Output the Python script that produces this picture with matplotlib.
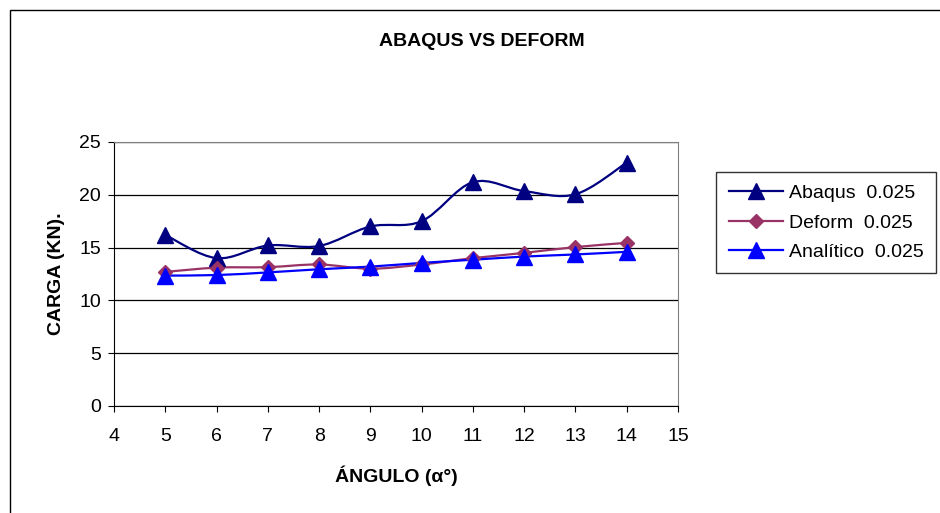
import numpy as np
import matplotlib.pyplot as plt
from matplotlib.path import Path
from matplotlib.patches import PathPatch, Rectangle

plt.rcParams['font.family'] = ['Liberation Sans', 'DejaVu Sans']

angulo = [5, 6, 7, 8, 9, 10, 11, 12, 13, 14]
abaqus = [16.2, 14.0, 15.2, 15.15, 17.0, 17.5, 21.2, 20.35, 20.05, 23.05]
deform = [12.7, 13.1, 13.15, 13.4, 13.0, 13.4, 14.0, 14.5, 15.05, 15.45]
analitico = [12.35, 12.4, 12.65, 12.95, 13.2, 13.55, 13.85, 14.15, 14.35, 14.6]


def smooth_path(x, y, t=1/6):
    # Excel-like smoothed line as cubic Bezier segments
    x = np.asarray(x, float)
    y = np.asarray(y, float)
    verts = [(x[0], y[0])]
    codes = [Path.MOVETO]
    n = len(x)
    for i in range(n - 1):
        x0, y0 = (x[i - 1], y[i - 1]) if i > 0 else (x[i], y[i])
        x3, y3 = (x[i + 2], y[i + 2]) if i + 2 < n else (x[i + 1], y[i + 1])
        c1 = (x[i] + (x[i + 1] - x0) * t, y[i] + (y[i + 1] - y0) * t)
        c2 = (x[i + 1] - (x3 - x[i]) * t, y[i + 1] - (y3 - y[i]) * t)
        verts += [c1, c2, (x[i + 1], y[i + 1])]
        codes += [Path.CURVE4] * 3
    return Path(verts, codes)


fig = plt.figure(figsize=(9.4, 5.13), dpi=100)
fig.patches.append(Rectangle((10 / 940, -0.1), 0.995, 1 - 10 / 513 + 0.1,
                             transform=fig.transFigure, fill=False,
                             edgecolor='black', linewidth=1.0))
ax = fig.add_axes([114 / 940, 1 - 406 / 513, 564 / 940, 264 / 513])

series = [
    (abaqus, '#000080', '^', 11, 'Abaqus  0.025'),
    (deform, '#993366', 'D', 7.5, 'Deform  0.025'),
    (analitico, '#0000FF', '^', 11, 'Analítico  0.025'),
]
for vals, col, mk, ms, lab in series:
    ax.add_patch(PathPatch(smooth_path(angulo, vals), facecolor='none',
                           edgecolor=col, linewidth=1.6, zorder=3))
    ax.plot(angulo, vals, linestyle='none', marker=mk, markersize=ms,
            color=col, zorder=4)
    ax.plot([], [], color=col, linewidth=1.6, marker=mk, markersize=ms,
            label=lab)

ax.set_xlim(4, 15)
ax.set_ylim(0, 25)
ax.set_xticks(range(4, 16))
ax.set_yticks(range(0, 26, 5))
ax.grid(axis='y', color='black', linewidth=0.9)
ax.set_axisbelow(True)
ax.tick_params(labelsize=14, length=4.5, direction='out', colors='black')
ax.tick_params(axis='x', pad=11)
ax.tick_params(axis='y', pad=5)
for s in ['top', 'right']:
    ax.spines[s].set_color('#808080')
for s in ['left', 'bottom']:
    ax.spines[s].set_color('black')

ax.set_xlabel('ÁNGULO (α°)', fontsize=14, fontweight='bold', labelpad=15)
ax.set_ylabel('CARGA (KN).', fontsize=14, fontweight='bold', labelpad=10)
fig.text(482 / 940, 1 - 42 / 513, 'ABAQUS VS DEFORM', fontsize=14,
         fontweight='bold', ha='center', va='center')

leg = ax.legend(loc='upper left', bbox_to_anchor=(716 / 940, 1 - 172 / 513),
                bbox_transform=fig.transFigure, fontsize=14, frameon=True,
                fancybox=False, edgecolor='black', handlelength=2.8,
                borderpad=0.65, labelspacing=0.6, handletextpad=0.3,
                borderaxespad=0)
leg.get_frame().set_linewidth(1.0)

fig.savefig('out.png', dpi=100)
